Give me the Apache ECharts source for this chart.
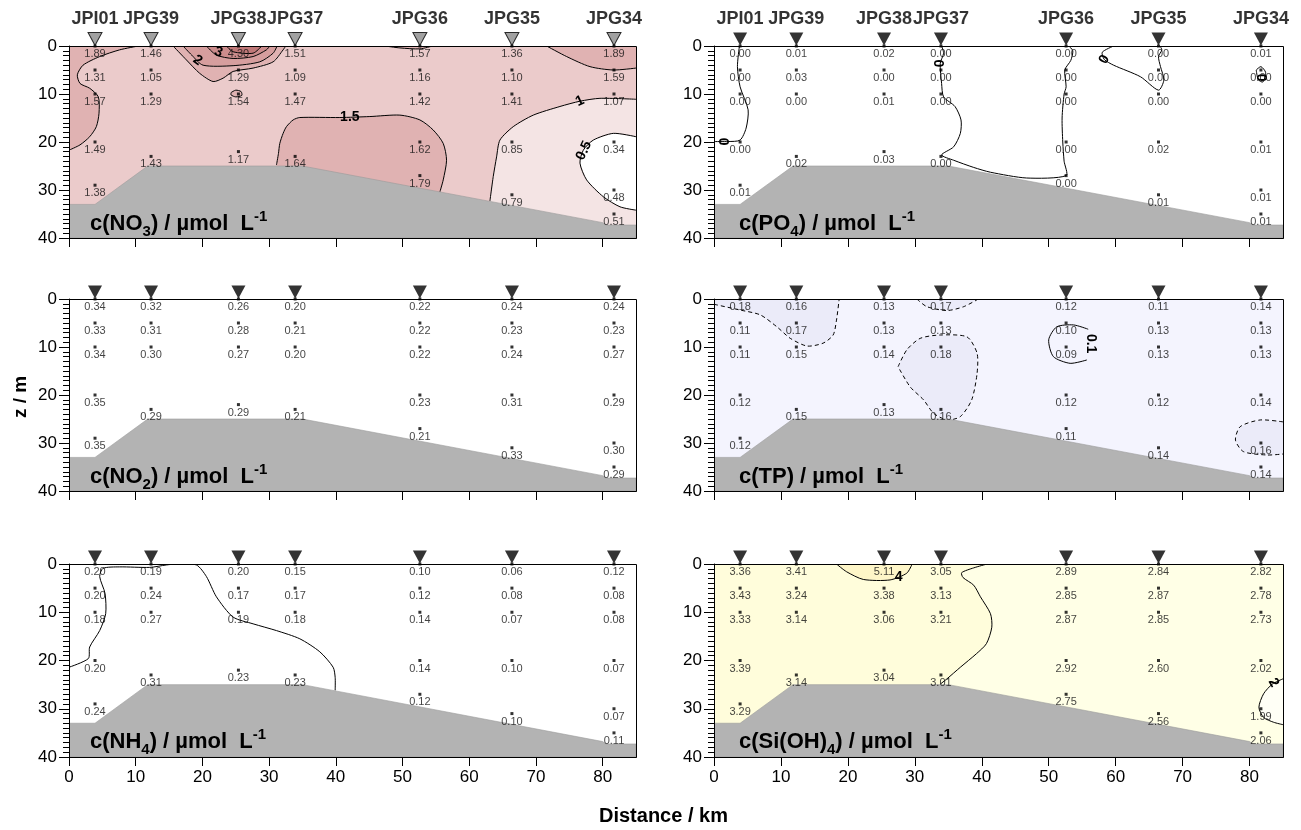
<!DOCTYPE html>
<html><head><meta charset="utf-8">
<script src="https://cdn.jsdelivr.net/npm/echarts@6/dist/echarts.min.js"></script>
<style>html,body{margin:0;padding:0;background:#fff}#c{width:1301px;height:830px}</style>
</head><body><div id="c"></div><script>
// ---------------- DATA ----------------
const stations = ['JPI01','JPG39','JPG38','JPG37','JPG36','JPG35','JPG34'];
const stationKm = [3.9, 12.3, 25.4, 33.9, 52.6, 66.4, 81.7];
const sampleDepths = [[0,5,10,20,29],[0,5,10,23],[0,5,10,22],[0,5,10,23],[0,5,10,20,27],[0,5,10,20,31],[0,5,10,20,30,35]];
const xTicks = [0,10,20,30,40,50,60,70,80];
const yTicks = [0,10,20,30,40];
const bathymetry = [[0,33],[3.9,33],[11.8,25],[35,25],[80,36.8],[80.5,37.3],[85,37.3]];

const no3 = [[1.89,1.31,1.57,1.49,1.38],[1.46,1.05,1.29,1.43],[4.30,1.29,1.54,1.17],[1.51,1.09,1.47,1.64],[1.57,1.16,1.42,1.62,1.79],[1.36,1.10,1.41,0.85,0.79],[1.89,1.59,1.07,0.34,0.48,0.51]];
const po4 = [[0.00,0.00,0.00,0.00,0.01],[0.01,0.03,0.00,0.02],[0.02,0.00,0.01,0.03],[0.00,0.00,0.00,0.00],[0.00,0.00,0.00,0.00,0.00],[0.00,0.00,0.00,0.02,0.01],[0.01,0.00,0.00,0.01,0.01,0.01]];
const no2 = [[0.34,0.33,0.34,0.35,0.35],[0.32,0.31,0.30,0.29],[0.26,0.28,0.27,0.29],[0.20,0.21,0.20,0.21],[0.22,0.22,0.22,0.23,0.21],[0.24,0.23,0.24,0.31,0.33],[0.24,0.23,0.27,0.29,0.30,0.29]];
const tp  = [[0.18,0.11,0.11,0.12,0.12],[0.16,0.17,0.15,0.15],[0.13,0.13,0.14,0.13],[0.17,0.13,0.18,0.16],[0.12,0.10,0.09,0.12,0.11],[0.11,0.13,0.13,0.12,0.14],[0.14,0.13,0.13,0.14,0.16,0.14]];
const nh4 = [[0.20,0.20,0.18,0.20,0.24],[0.19,0.24,0.27,0.31],[0.20,0.17,0.19,0.23],[0.15,0.17,0.18,0.23],[0.10,0.12,0.14,0.14,0.12],[0.06,0.08,0.07,0.10,0.10],[0.12,0.08,0.08,0.07,0.07,0.11]];
const si  = [[3.36,3.43,3.33,3.39,3.29],[3.41,3.24,3.14,3.14],[5.11,3.38,3.06,3.04],[3.05,3.13,3.21,3.01],[2.89,2.85,2.87,2.92,2.75],[2.84,2.87,2.85,2.60,2.56],[2.82,2.78,2.73,2.02,1.99,2.06]];

// contour lines: level, points [km, m], band filled on the high side, extra closing points
const no3Contours = [
  {v:1.5, fill:1.5, pts:[[10.4,0],[7.6,0.8],[4.6,2.2],[2.1,4.0],[1.25,6.0],[1.65,7.8],[3.1,8.8],[4.4,10.6],[4.5,14.0],[4.1,16.8],[3.1,18.9],[1.65,20.6],[0,21.7]], close:[[0,0]]},
  {v:1.5, fill:1.5, pts:[[15.6,0],[17.6,2.9],[19.6,5.7],[21.6,7.4],[23.1,6.7],[24.6,5.3],[27.6,4.6],[30.6,3.3],[32.1,0.8],[32.5,0]]},
  {v:2, fill:2, pts:[[17.1,0],[18.4,1.9],[20.1,4.0],[24.6,4.1],[28.6,3.3],[30.6,1.5],[31.2,0]]},
  {v:3, fill:3, pts:[[20.6,0],[22.1,1.9],[24.6,2.6],[27.6,2.2],[29.6,0.8],[30.1,0]]},
  {v:4, fill:4, pts:[[23.6,0],[24.6,1.2],[27.6,1.5],[28.9,0]]},
  {v:1.5, fill:1.5, pts:[[24.3,9.7],[25.0,9.2],[25.8,9.5],[25.9,10.3],[25.0,10.6],[24.3,10.2],[24.3,9.7]]},
  {v:1.5, fill:1.5, pts:[[71.6,0],[74.6,2.2],[78.1,4.3],[81.6,5.0],[85,4.6]], close:[[85,0]]},
  {v:1.5, fill:1.5, pts:[[47.4,0],[49.6,0.4],[52.6,0.6],[54.5,0]]},
  {v:1.5, fill:1.5, pts:[[31.1,24.8],[31.4,22.4],[31.6,20.3],[32.1,18.2],[32.6,16.8],[33.6,15.4],[34.6,14.9],[40.6,14.9],[45.1,14.7],[49.6,14.4],[52.6,15.4],[54.6,17.5],[56.1,20.3],[56.6,23.8],[56.1,27.9],[55.6,30.4]], close:[[55.6,40],[31.1,40]]},
  {v:1, fill:0.5, pts:[[85,11.1],[79.6,10.9],[76.6,11.5],[73.6,12.6],[69.6,14.4],[66.6,16.8],[64.6,19.6],[64.1,23.1],[63.6,27.2],[63.1,32.3]], close:[[63.1,40],[85,40]]},
  {v:0.5, fill:0, pts:[[85,18.9],[81.6,18.2],[78.6,19.6],[77.1,21.7],[76.6,24.4],[77.6,27.9],[80.1,31.4],[82.6,33.5],[85,34.2]]}
];
const no3Labels = [[19.3,3.0,'2',-35],[22.4,1.3,'3',-20],[42.1,14.9,'1.5',0],[76.6,11.5,'1',25],[77.2,21.8,'0.5',65]];

const po4Contours = [
  {v:0, pts:[[3.8,0],[3.5,4.3],[3.9,8.5],[5.1,13.3],[4.8,17.1],[3.9,19.6],[2.1,19.9],[0,19.9]]},
  {v:0, pts:[[34.0,0],[34.3,1.5],[33.8,3.6],[34.0,7.8],[34.3,10.6],[36.0,12.6],[36.9,15.4],[36.8,18.2],[35.8,21.0],[34.0,22.7],[35.8,23.8],[38.8,25.3],[41.3,26.3],[46.7,27.5],[52.6,27.0],[52.3,24],[52.1,20],[52.0,15],[52.3,10],[52.6,8.5],[52.4,5],[53.3,3],[53.6,1],[53.0,0]]},
  {v:0, pts:[[59.7,0],[58.0,1.3],[58.3,2.8],[59.7,4.0],[63.7,6.4],[66.4,9.2],[67.2,7.1],[66.7,4.3],[66.4,2.2],[66.9,0.8],[66.6,0]]},
  {v:0, pts:[[81.0,5.0],[81.7,4.3],[82.4,5.5],[82.0,7.5],[81.3,7.0],[81.0,5.0]]}
];
const po4Labels = [[1.6,19.9,'0',90],[33.8,3.6,'0',90],[58.3,2.8,'0',60],[82.0,6.6,'0',90]];

const tpContours = [
  {v:0.15, fill:0.15, pts:[[0,1.1],[3.9,2.3],[6.9,3.3],[9.4,5.8],[11.4,8.2],[13.9,9.8],[16.3,9.2],[17.8,7.5],[18.3,4.4],[18.7,0]], close:[[0,0]]},
  {v:0.15, fill:0.15, pts:[[30.3,0],[31.8,1.6],[34.8,2.4],[37.3,1.6],[39.5,0]]},
  {v:0.15, fill:0.15, pts:[[27.5,14.1],[28.8,10.6],[30.8,8.2],[33.8,7.5],[37.8,7.9],[39.3,11.3],[39.3,15.5],[38.5,21.0],[36.8,24.5],[34.8,25.2],[32.8,23.8],[31.3,21.0],[29.3,18.3],[27.5,14.1]]},
  {v:0.15, fill:0.15, pts:[[85,25.6],[81.6,25.2],[78.6,26.6],[77.9,29.4],[79.1,31.8],[82.6,32.5],[85,32.3]]},
  {v:0.1, pts:[[55.9,6.3],[53.7,5.4],[51.2,5.8],[50.0,8.5],[50.7,12.0],[53.2,13.4],[55.7,12.7]]}
];
const tpLabels = [[56.3,9.3,'0.1',-90]];

const nh4Contours = [
  {v:0.2, pts:[[0,21.4],[2.9,19.6],[3.1,17.2],[4.6,13.8],[5.5,10.3],[5.4,6.1],[4.6,2.6],[5.1,0.9],[7.6,0.6],[12.1,0.7],[14.6,0.2],[16.1,0],[19.1,0.2],[20.6,2.6],[22.1,6.8],[24.6,11.0],[27.6,12.4],[31.1,13.8],[34.6,15.5],[37.6,18.2],[39.6,21.4],[39.9,23.5],[39.9,26.2]]}
];
const nh4Labels = [];

const siContours = [
  {v:3, fill:3, pts:[[40.8,0],[38.8,0.8],[37.0,1.8],[37.2,2.8],[38.8,4.4],[39.8,6.8],[41.3,10.3],[41.5,13.1],[40.7,16.5],[39.2,18.6],[36.8,21.4],[34.8,23.8],[33.8,24.9]], close:[[33.8,40],[0,40],[0,0]]},
  {v:4, fill:4, pts:[[18.3,0],[19.8,1.6],[22.3,3.2],[26.3,3.3],[28.8,1.9],[29.6,0]]},
  {v:2, fill:1, pts:[[85,23.8],[83.4,24.9],[82.1,26.9],[81.4,29.7],[82.1,31.8],[83.6,32.8],[85,33.3]]}
];
const siLabels = [[27.6,2.7,'4',0],[83.6,24.6,'2',-60]];

// ---------------- STYLE / LAYOUT ----------------
const FONT = 'Liberation Sans, Arial, sans-serif';
const grids = [
  {left:69, top:46, width:567, height:192},
  {left:714, top:46, width:569, height:192},
  {left:69, top:299, width:567, height:192},
  {left:714, top:299, width:569, height:192},
  {left:69, top:564, width:567, height:193},
  {left:714, top:564, width:569, height:193}
];
const no3Colors = {0:'#FFFFFF', 0.5:'#F4E4E4', 1:'#EBCBCB', 1.5:'#E0B2B2', 2:'#D69E9E', 3:'#CC8C8C', 4:'#C07878'};
const tpColors = {0.1:'#F4F4FE', 0.15:'#EBEBF9'};
const siColors = {1:'#FFFFF6', 2:'#FFFFE6', 3:'#FFFDDB', 4:'#FEF6C8'};
const panels = [
  {vals:no3, contours:no3Contours, labels:no3Labels, colors:no3Colors, bg:no3Colors[1], name:'NO', sub:'3'},
  {vals:po4, contours:po4Contours, labels:po4Labels, colors:{}, bg:'#FFFFFF', name:'PO', sub:'4'},
  {vals:no2, contours:[], labels:[], colors:{}, bg:'#FFFFFF', name:'NO', sub:'2'},
  {vals:tp, contours:tpContours, labels:tpLabels, colors:tpColors, bg:tpColors[0.1], name:'TP', sub:'', dashLevel:0.15},
  {vals:nh4, contours:nh4Contours, labels:nh4Labels, colors:{}, bg:'#FFFFFF', name:'NH', sub:'4'},
  {vals:si, contours:siContours, labels:siLabels, colors:siColors, bg:siColors[2], name:'Si(OH)', sub:'4'}
];

const series = [];
const titles = [];
panels.forEach((p, gi) => {
  const fills = p.contours.filter(c => c.fill !== undefined);
  series.push({
    type:'custom', xAxisIndex:gi, yAxisIndex:gi, clip:true, silent:true, z:1,
    data: fills.map((c, i) => [0, 0, i]),
    renderItem: (params, api) => {
      const c = fills[api.value(2)];
      const pts = c.pts.concat(c.close || []).map(q => api.coord(q));
      return {type:'polygon', shape:{points:pts}, style:{fill:p.colors[c.fill], stroke:null}};
    }
  });
  series.push({
    type:'custom', xAxisIndex:gi, yAxisIndex:gi, clip:true, silent:true, z:2,
    data: p.contours.map((c, i) => [0, 0, i]),
    renderItem: (params, api) => {
      const c = p.contours[api.value(2)];
      return {type:'polyline', shape:{points:c.pts.map(q => api.coord(q)), smooth:0.25},
        style:{stroke:'#000', lineWidth:1, fill:null, lineDash:(p.dashLevel === c.v) ? [4,3] : null}};
    }
  });
  series.push({
    type:'custom', xAxisIndex:gi, yAxisIndex:gi, clip:true, silent:true, z:3,
    data: [[0,0]],
    renderItem: (params, api) => ({type:'polygon',
      shape:{points: bathymetry.concat([[85,40],[0,40]]).map(q => api.coord(q))},
      style:{fill:'#B3B3B3', stroke:'#9A9A9A', lineWidth:0.6}})
  });
  series.push({
    type:'custom', xAxisIndex:gi, yAxisIndex:gi, clip:true, silent:true, z:4,
    data: p.labels.map((l, i) => [l[0], l[1], i]),
    renderItem: (params, api) => {
      const l = p.labels[api.value(2)];
      const pt = api.coord([l[0], l[1]]);
      return {type:'text', x:pt[0], y:pt[1], rotation:l[3] * Math.PI / 180,
        style:{text:l[2], font:'bold 14px ' + FONT, fill:'#000', align:'center', verticalAlign:'middle'}};
    }
  });
  series.push({
    type:'custom', xAxisIndex:gi, yAxisIndex:gi, clip:false, silent:true, z:6,
    data: [[0,0]],
    renderItem: (params, api) => {
      const a = api.coord([0,0]), b = api.coord([85,40]);
      return {type:'rect', shape:{x:Math.round(a[0]) + 0.5, y:Math.round(a[1]) + 0.5, width:Math.round(b[0] - a[0]), height:Math.round(b[1] - a[1])},
        style:{fill:null, stroke:'#000', lineWidth:1}};
    }
  });
  const pts = [];
  stationKm.forEach((km, si) => {
    sampleDepths[si].forEach((d, k) => pts.push([km, d, p.vals[si][k]]));
  });
  series.push({
    type:'scatter', xAxisIndex:gi, yAxisIndex:gi, clip:false, silent:true, z:7,
    symbol:'rect', symbolSize:3, itemStyle:{color:'#000'},
    data: pts,
    label:{show:true, position:'bottom', distance:1, fontSize:11, fontFamily:FONT, color:'#111',
      formatter: q => q.value[2].toFixed(2)}
  });
  series.push({
    type:'scatter', xAxisIndex:gi, yAxisIndex:gi, clip:false, silent:true, z:8,
    symbol:'triangle', symbolRotate:180, symbolSize:[14,13], symbolOffset:[0,-7],
    itemStyle:{color: gi === 0 ? '#8A8A8A' : '#000', borderColor:'#000', borderWidth: gi === 0 ? 1 : 0},
    data: stationKm.map(k => [k, 0]),
    label:{show: gi < 2, position:'top', distance:4, fontSize:18, fontWeight:'bold', fontFamily:FONT, color:'#000',
      formatter: q => stations[q.dataIndex]}
  });
  const g = grids[gi];
  titles.push({
    text: '{m|c(' + p.name + '}' + (p.sub ? '{s|' + p.sub + '}' : '') + '{m|) / µmol  L}{p|-1}',
    left: g.left + (gi % 2 ? 20 : 16), top: g.top + 158,
    textStyle:{rich:{
      m:{fontSize:22, fontWeight:'bold', fontFamily:FONT, color:'#000', lineHeight:30, verticalAlign:'middle'},
      s:{fontSize:15, fontWeight:'bold', fontFamily:FONT, color:'#000', lineHeight:14, verticalAlign:'bottom'},
      p:{fontSize:15, fontWeight:'bold', fontFamily:FONT, color:'#000', lineHeight:12, verticalAlign:'top'}
    }}
  });
});

const option = {
  animation:false,
  backgroundColor:'#fff',
  title: titles,
  grid: grids.map((g, i) => ({left:g.left, top:g.top, width:g.width, height:g.height, show:true,
    backgroundColor:panels[i].bg, borderWidth:0})),
  xAxis: grids.map((g, i) => ({gridIndex:i, type:'value', min:0, max:85, interval:10, z:10,
    axisLine:{show:true, onZero:false, lineStyle:{color:'#000', width:1}},
    axisTick:{show:true, length:9, customValues:xTicks, lineStyle:{color:'#000'}},
    axisLabel:{show:i >= 4, customValues:xTicks, fontSize:17, color:'#000', margin:12, fontFamily:FONT},
    splitLine:{show:false}})),
  yAxis: grids.map((g, i) => ({gridIndex:i, type:'value', inverse:true, min:0, max:40, interval:10, z:10,
    axisLine:{show:true, onZero:false, lineStyle:{color:'#000', width:1}},
    axisTick:{show:true, length:10, lineStyle:{color:'#000'}},
    minorTick:{show:true, splitNumber:10, length:6, lineStyle:{color:'#000'}},
    axisLabel:{fontSize:17, color:'#000', margin:12, fontFamily:FONT, customValues:yTicks},
    splitLine:{show:false}, minorSplitLine:{show:false}})),
  graphic: [
    {type:'text', x:599, y:806, style:{text:'Distance / km', font:'bold 20px ' + FONT, fill:'#000'}},
    {type:'text', x:11, y:418, rotation:Math.PI / 2, style:{text:'z / m', font:'bold 19px ' + FONT, fill:'#000'}}
  ],
  series: series
};
const chart = echarts.init(document.getElementById('c'), null, {renderer:'canvas'});
chart.setOption(option);
</script></body></html>
